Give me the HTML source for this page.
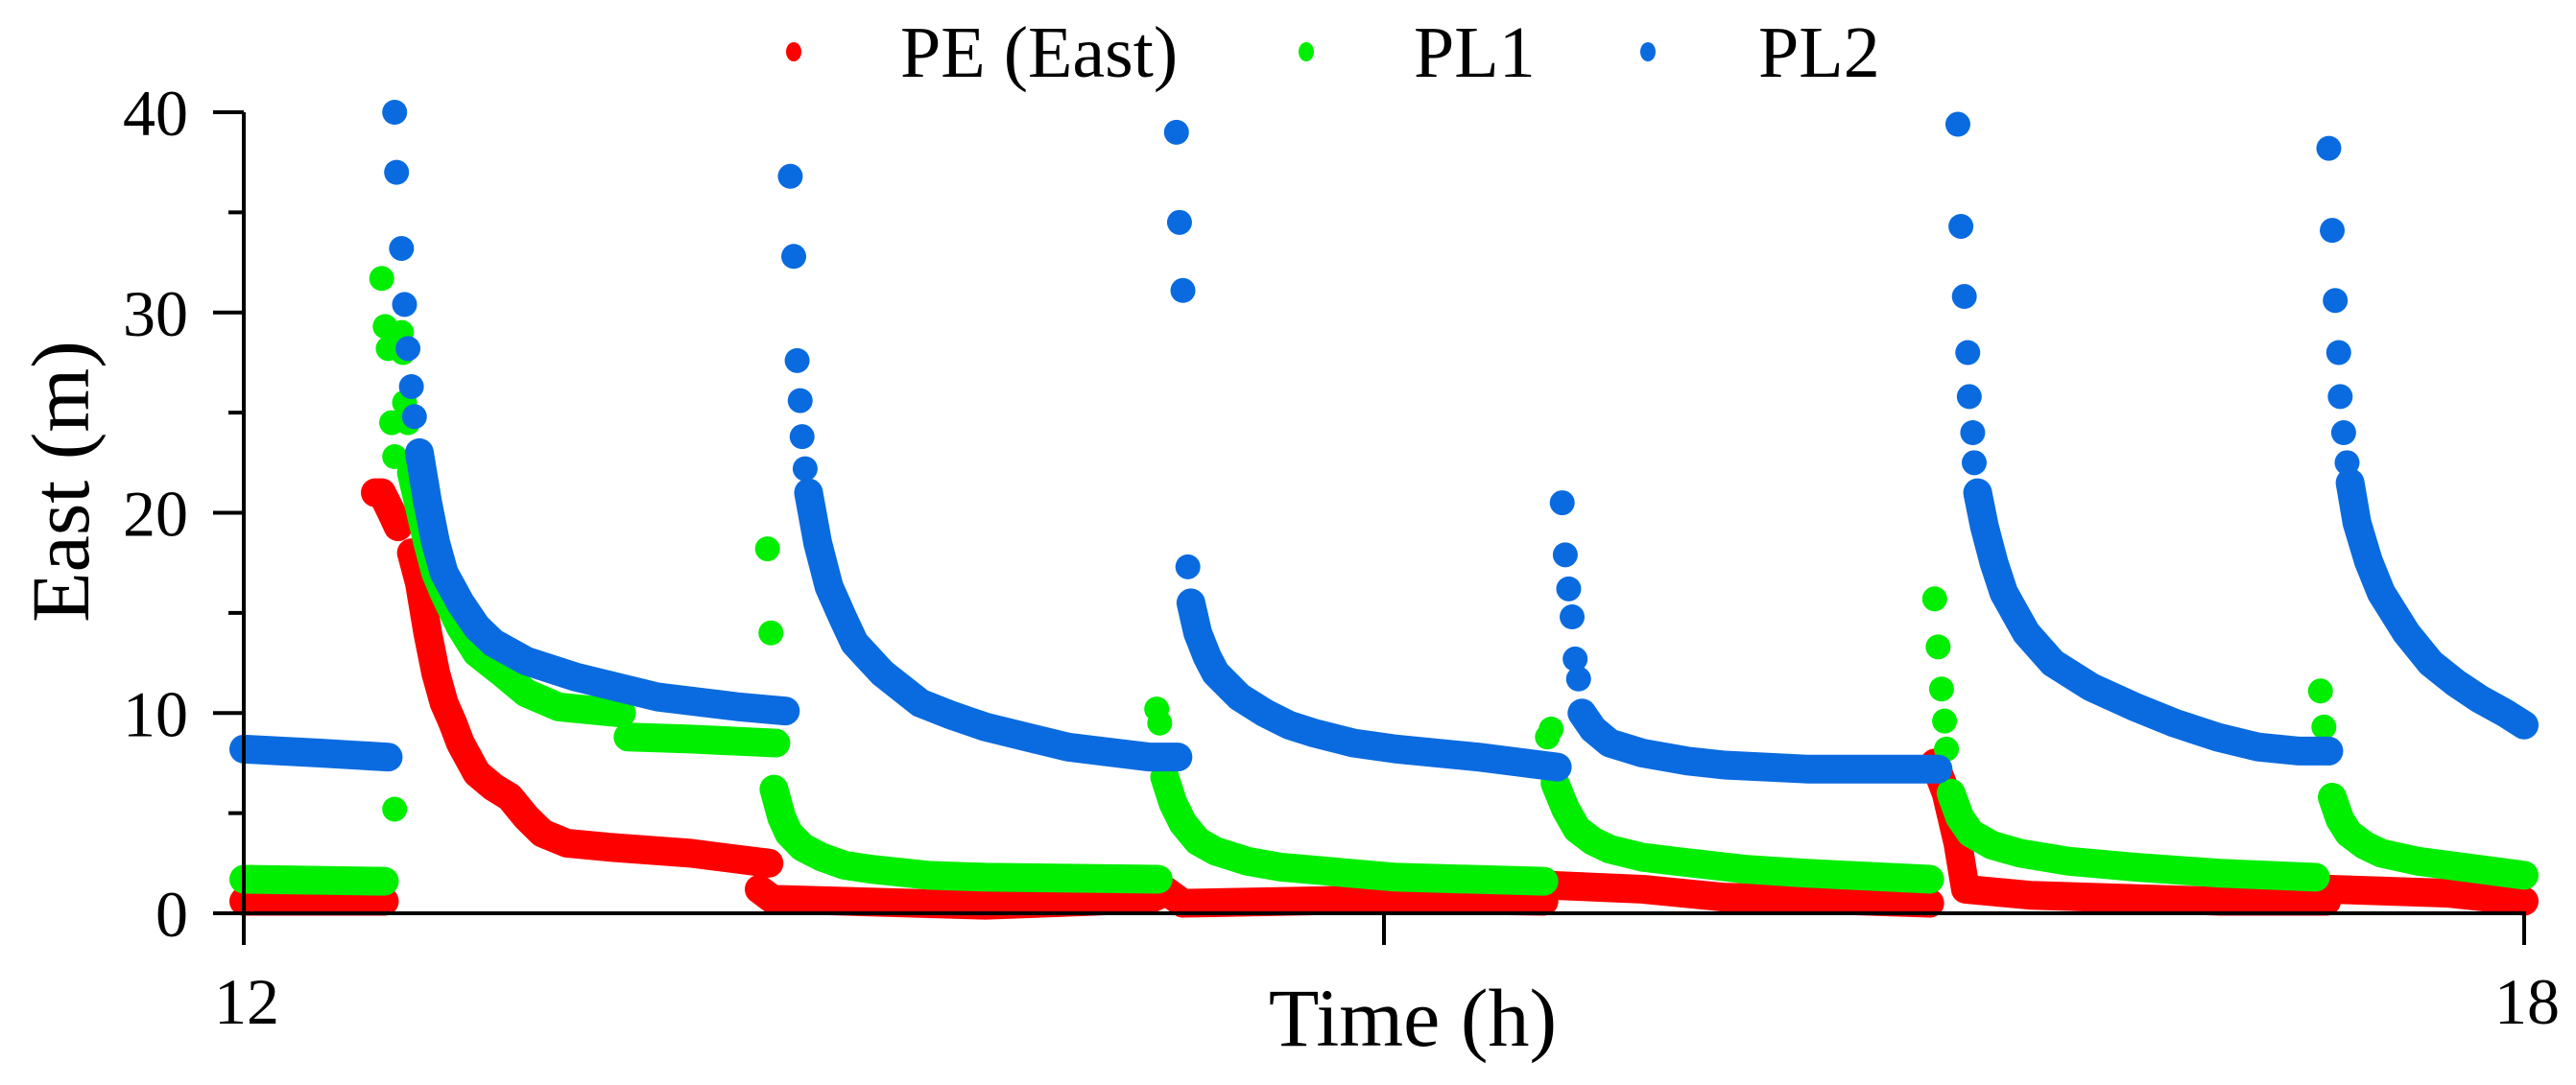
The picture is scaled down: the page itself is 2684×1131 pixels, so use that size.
<!DOCTYPE html>
<html><head><meta charset="utf-8"><style>
html,body{margin:0;padding:0;background:#fff;}
svg{display:block;font-family:"Liberation Serif",serif;}
</style></head><body>
<svg id="chart" width="2684" height="1131" viewBox="0 0 2684 1131" xmlns="http://www.w3.org/2000/svg">
<g id="marks"></g>
<g id="axes"></g>
<g id="legend"></g>
</svg>
<script>
const yTicks = [0, 10, 20, 30, 40];
const yMinor = [5, 15, 25, 35];
const xTicks = [12, 15, 18];
const xTickLabels = ["12", "", "18"];
const seriesNames = ["PE (East)", "PL1", "PL2"];
const seriesColors = ["#ff0000", "#00ee00", "#0a6be0"];

const peRuns = [
 [[12,0.6],[12.37,0.6]],
 [[12.346,21],[12.363,21],[12.389,20],[12.406,19.3]],
 [[12.441,18],[12.462,16.5],[12.484,14],[12.505,12],[12.527,10.5],[12.55,9.5],[12.57,8.5],[12.613,7],[12.657,6.3],[12.70,5.8],[12.743,4.8],[12.786,4],[12.85,3.5],[12.96,3.3],[13.175,3.0],[13.382,2.5]],
 [[13.356,1.2],[13.391,0.7],[13.952,0.4],[14.384,0.7],[14.428,1.1],[14.471,0.5],[15.032,0.7],[15.421,0.6]],
 [[15.434,1.4],[15.68,1.2],[15.896,0.8],[16.112,0.7],[16.436,0.5]],
 [[16.449,7.5],[16.479,6],[16.51,3.5],[16.53,1.2],[16.7,0.9],[17.2,0.6],[17.48,0.6]],
 [[17.49,1.2],[17.8,1.0],[18,0.6]]
];
const pl1Runs = [
 [[12,1.7],[12.37,1.6]],
 [[12.363,31.7]],[[12.372,29.3]],[[12.380,28.2]],[[12.389,24.5]],[[12.397,22.8]],[[12.397,5.2]],
 [[12.415,29]],[[12.419,28]],[[12.423,25.5]],[[12.432,24.5]],
 [[12.441,22],[12.462,20.3],[12.484,18.5],[12.505,17],[12.527,16],[12.57,14.3],[12.613,13],[12.68,12],[12.743,11],[12.829,10.3],[12.994,10.0]],
 [[13.011,8.8],[13.175,8.7],[13.40,8.5]],
 [[13.378,18.2]],[[13.387,14]],
 [[13.395,6.2],[13.415,4.8],[13.434,4],[13.47,3.3],[13.521,2.8],[13.58,2.4],[13.65,2.2],[13.8,1.9],[13.952,1.8],[14.406,1.7]],
 [[14.402,10.2]],[[14.41,9.5]],
 [[14.423,6.8],[14.445,5.5],[14.471,4.5],[14.51,3.6],[14.557,3.1],[14.64,2.6],[14.73,2.3],[15.032,1.8],[15.421,1.6]],
 [[15.43,8.8]],[[15.44,9.2]],
 [[15.45,6.5],[15.478,5.2],[15.508,4.2],[15.55,3.6],[15.594,3.2],[15.68,2.8],[15.767,2.6],[15.95,2.2],[16.112,2.0],[16.436,1.7]],
 [[16.449,15.7]],[[16.458,13.3]],[[16.467,11.2]],[[16.475,9.6]],[[16.48,8.2]],
 [[16.492,6],[16.515,4.8],[16.544,4],[16.6,3.4],[16.674,3],[16.8,2.6],[16.976,2.3],[17.2,2.0],[17.451,1.8]],
 [[17.464,11.1]],[[17.473,9.3]],[[17.486,8]],
 [[17.495,5.8],[17.515,4.7],[17.538,4],[17.58,3.4],[17.624,3],[17.72,2.6],[17.84,2.3],[18,1.9]]
];
const pl2Runs = [
 [[12,8.2],[12.2,8.0],[12.38,7.8]],
 [[12.397,40]],[[12.402,37]],[[12.415,33.2]],[[12.423,30.4]],[[12.432,28.2]],[[12.441,26.3]],[[12.449,24.8]],
 [[12.462,23],[12.484,20.5],[12.505,18.5],[12.527,17],[12.57,15.5],[12.613,14.3],[12.657,13.5],[12.743,12.6],[12.873,11.8],[13.089,10.8],[13.305,10.3],[13.425,10.1]],
 [[13.438,36.8]],[[13.447,32.8]],[[13.456,27.6]],[[13.464,25.6]],[[13.469,23.8]],[[13.477,22.2]],
 [[13.486,21],[13.51,18.5],[13.54,16.3],[13.575,14.8],[13.607,13.5],[13.68,12],[13.78,10.5],[13.86,9.9],[13.952,9.3],[14.06,8.8],[14.168,8.3],[14.384,7.8],[14.458,7.8]],
 [[14.454,39]],[[14.462,34.5]],[[14.471,31.1]],[[14.484,17.3]],
 [[14.492,15.5],[14.51,14],[14.535,12.8],[14.557,12],[14.62,10.8],[14.687,10],[14.75,9.4],[14.816,9],[14.92,8.5],[15.032,8.2],[15.248,7.8],[15.456,7.3]],
 [[15.469,20.5]],[[15.477,17.9]],[[15.486,16.2]],[[15.495,14.8]],[[15.503,12.7]],[[15.512,11.7]],
 [[15.521,10],[15.55,9.2],[15.594,8.5],[15.68,8],[15.8,7.6],[15.896,7.4],[16.112,7.2],[16.458,7.2]],
 [[16.51,39.4]],[[16.518,34.3]],[[16.527,30.8]],[[16.536,28]],[[16.54,25.8]],[[16.549,24]],[[16.553,22.5]],
 [[16.562,21],[16.58,19.3],[16.605,17.5],[16.631,16],[16.69,14],[16.76,12.5],[16.86,11.3],[16.976,10.3],[17.08,9.5],[17.192,8.8],[17.3,8.3],[17.408,8.1],[17.486,8.1]],
 [[17.486,38.2]],[[17.495,34.1]],[[17.503,30.6]],[[17.512,28]],[[17.516,25.8]],[[17.525,24]],[[17.534,22.5]],
 [[17.542,21.5],[17.56,19.5],[17.59,17.6],[17.624,16],[17.69,14],[17.754,12.5],[17.82,11.5],[17.883,10.7],[17.95,10],[18,9.4]]
];
const allRuns = [peRuns, pl1Runs, pl2Runs];

const X0=254, X1=2630, Y0=952, Y1=117;
const xs = t => X0 + (t-12)/(18-12)*(X1-X0);
const ys = v => Y0 - v/40*(Y0-Y1);
const NS="http://www.w3.org/2000/svg";
function mk(tag, attrs, parent){const e=document.createElementNS(NS,tag);for(const k in attrs)e.setAttribute(k,attrs[k]);parent.appendChild(e);return e;}

const marks=document.getElementById('marks');
allRuns.forEach((runs,si)=>{
  const g=mk('g',{},marks);
  
  
  runs.forEach(run=>{
    if(run.length===1){
      const c=mk('ellipse',{cx:xs(run[0][0]),cy:ys(run[0][1]),rx:13,ry:13,fill:seriesColors[si]},g);
      
      
    } else {
      const p=mk('polyline',{points:run.map(d=>xs(d[0])+','+ys(d[1])).join(' '),fill:'none',stroke:seriesColors[si],'stroke-width':30,'stroke-linecap':'round','stroke-linejoin':'round'},g);
      
      
    }
  });
});

const axes=document.getElementById('axes');
const ya=mk('line',{x1:X0,y1:Y1,x2:X0,y2:Y0+33,stroke:'#000','stroke-width':4},axes);


const xa=mk('line',{x1:X0-32,y1:Y0,x2:X1+2,y2:Y0,stroke:'#000','stroke-width':4},axes);


yTicks.forEach(v=>{
  const l=mk('line',{x1:X0-32,y1:ys(v),x2:X0,y2:ys(v),stroke:'#000','stroke-width':4},axes);
  
  
  const t=mk('text',{x:196,y:ys(v)+24,'font-size':68,'text-anchor':'end',fill:'#000'},axes);
  t.textContent=String(v);
  
  
});
yMinor.forEach(v=>{
  const l=mk('line',{x1:X0-16,y1:ys(v),x2:X0,y2:ys(v),stroke:'#000','stroke-width':4},axes);
  
  
});
xTicks.forEach((v,i)=>{
  const l=mk('line',{x1:xs(v),y1:Y0,x2:xs(v),y2:Y0+33,stroke:'#000','stroke-width':4},axes);
  
  
  if(xTickLabels[i]){
    const t=mk('text',{x:xs(v)+3,y:1067,'font-size':68,'text-anchor':'middle',fill:'#000'},axes);
    t.textContent=xTickLabels[i];
    
    
  }
});
const xt=mk('text',{x:1472,y:1090,'font-size':86,'text-anchor':'middle',fill:'#000'},axes);
xt.textContent='Time (h)';


const yt=mk('text',{x:0,y:0,'font-size':86,'text-anchor':'middle',fill:'#000',transform:'translate(92,502) rotate(-90)'},axes);
yt.textContent='East (m)';



const legend=document.getElementById('legend');
const legDotX=[827,1361,1717], legTextX=[938,1473,1832];
seriesNames.forEach((n,i)=>{
  const g=mk('g',{},legend);
  
  
  mk('ellipse',{cx:legDotX[i],cy:54,rx:8,ry:10,fill:seriesColors[i]},g);
  const t=mk('text',{x:legTextX[i],y:80,'font-size':76,fill:'#000'},g);
  t.textContent=n;
});
</script>
</body></html>
